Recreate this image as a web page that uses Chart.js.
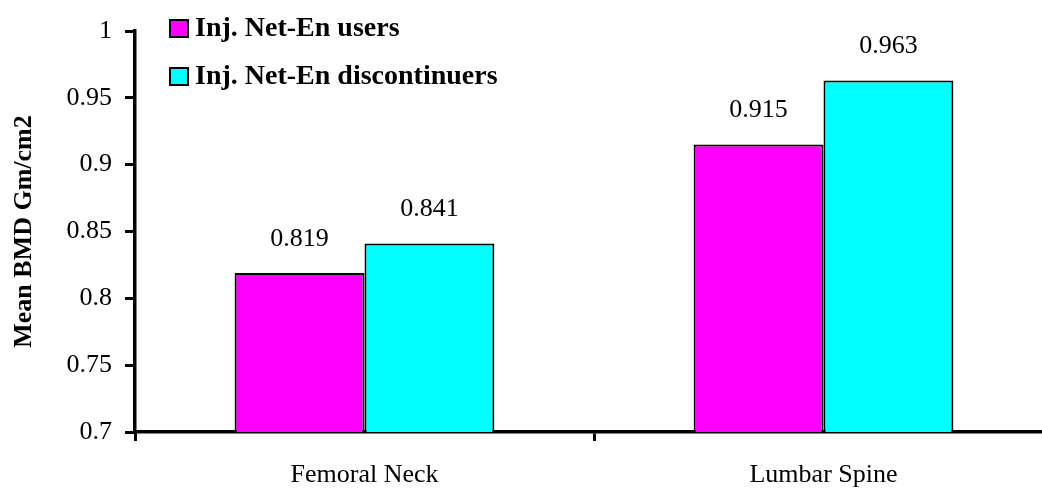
<!DOCTYPE html>
<html><head><meta charset="utf-8">
<script src="https://cdn.jsdelivr.net/npm/chart.js@4/dist/chart.umd.min.js"></script>
<style>
html,body{margin:0;padding:0;background:#fff;overflow:hidden;}
#wrap{width:1042px;height:489px;overflow:hidden;position:relative;}
canvas{display:block;}
</style></head><body>
<div id="wrap"><canvas id="c" width="1062" height="489"></canvas></div>
<script>
const categories = ["Femoral Neck", "Lumbar Spine"];
const seriesNames = ["Inj. Net-En users", "Inj. Net-En discontinuers"];
const usersValues = [0.819, 0.915];
const discontinuersValues = [0.841, 0.963];
const yTicks = [0.7, 0.75, 0.8, 0.85, 0.9, 0.95, 1];
const seriesColors = ["#FF00FF", "#00FFFF"];

const SERIF = "'Liberation Serif', 'Times New Roman', serif";

const valueLabels = {
  id: 'valueLabels',
  afterDatasetsDraw(chart) {
    const ctx = chart.ctx;
    ctx.save();
    ctx.font = "26px " + SERIF;
    ctx.fillStyle = "#000";
    ctx.textAlign = "center";
    ctx.textBaseline = "middle";
    chart.data.datasets.forEach((ds, i) => {
      chart.getDatasetMeta(i).data.forEach((el, j) => {
        ctx.fillText(ds.data[j].toFixed(3), el.x, el.y - 34);
      });
    });
    ctx.restore();
  }
};

const customLegend = {
  id: 'customLegend',
  afterDraw(chart) {
    const ctx = chart.ctx;
    ctx.save();
    ctx.font = "bold 28px " + SERIF;
    ctx.textBaseline = "middle";
    ctx.textAlign = "left";
    const rows = [28, 76];
    chart.data.datasets.forEach((ds, i) => {
      const y = rows[i];
      ctx.fillStyle = ds.backgroundColor;
      ctx.fillRect(170, y - 8, 18, 17);
      ctx.lineWidth = 2;
      ctx.strokeStyle = "#000";
      ctx.strokeRect(170, y - 8, 18, 17);
      ctx.fillStyle = "#000";
      ctx.fillText(ds.label, 195, y + 1);
    });
    ctx.restore();
  }
};

new Chart(document.getElementById('c'), {
  type: 'bar',
  data: {
    labels: categories,
    datasets: [
      { label: seriesNames[0], data: usersValues, backgroundColor: seriesColors[0], borderColor: "#000", borderWidth: 2 },
      { label: seriesNames[1], data: discontinuersValues, backgroundColor: seriesColors[1], borderColor: "#000", borderWidth: 2 }
    ]
  },
  options: {
    responsive: false,
    animation: false,
    devicePixelRatio: 1,
    layout: { padding: { left: 0, top: 31, right: 9, bottom: 0 } },
    datasets: { bar: { categoryPercentage: 0.566, barPercentage: 1.0 } },
    plugins: { legend: { display: false }, tooltip: { enabled: false } },
    scales: {
      x: {
        offset: true,
        grid: { offset: true, drawOnChartArea: false, drawTicks: true, tickLength: 9, color: "#000", lineWidth: 3 },
        border: { display: true, color: "#000", width: 3.5 },
        ticks: { color: "#000", font: { family: SERIF, size: 26 }, padding: 19 },
        afterFit(scale) { scale.height = 57; }
      },
      y: {
        min: 0.7, max: 1,
        afterBuildTicks(scale) { scale.ticks = yTicks.map(v => ({ value: v })); },
        grid: { drawOnChartArea: false, drawTicks: true, tickLength: 10, color: "#000", lineWidth: 3 },
        border: { display: true, color: "#000", width: 3.5 },
        ticks: { color: "#000", font: { family: SERIF, size: 26 }, padding: 13,
          callback: (v) => String(v) },
        title: { display: true, text: "Mean BMD Gm/cm2", color: "#000", font: { family: SERIF, size: 26, weight: 'bold' }, padding: { top: 9, bottom: 0 } },
        afterFit(scale) { scale.width = 135; }
      }
    }
  },
  plugins: [valueLabels, customLegend]
});
</script>
</body></html>
